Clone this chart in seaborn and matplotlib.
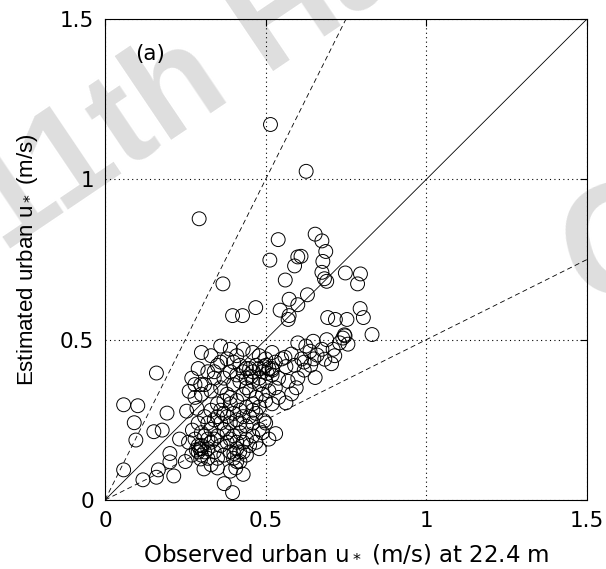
import numpy as np
import pandas as pd
import matplotlib
matplotlib.use("Agg")
import matplotlib.pyplot as plt
import seaborn as sns
from matplotlib.ticker import FuncFormatter

# observed vs estimated urban u* (m/s), grouped by region
upper_obs = [0.515, 0.626, 0.293, 0.367, 0.654, 0.539, 0.675, 0.687, 0.513, 0.600,
             0.590, 0.678, 0.675, 0.690, 0.748, 0.795, 0.786, 0.561, 0.630, 0.573,
             0.600, 0.545, 0.573, 0.570, 0.397, 0.428, 0.469, 0.794, 0.804, 0.693,
             0.717, 0.753, 0.610, 0.683]
upper_est = [1.171, 1.025, 0.877, 0.674, 0.829, 0.812, 0.808, 0.775, 0.748, 0.758,
             0.730, 0.744, 0.710, 0.682, 0.708, 0.705, 0.674, 0.686, 0.640, 0.626,
             0.609, 0.592, 0.575, 0.563, 0.575, 0.575, 0.600, 0.597, 0.569, 0.569,
             0.563, 0.563, 0.760, 0.690]

right_obs = [0.831, 0.747, 0.756, 0.740, 0.730, 0.710, 0.648, 0.600, 0.638, 0.660,
             0.684, 0.654, 0.563, 0.563, 0.581, 0.620, 0.640, 0.690, 0.715, 0.675,
             0.620, 0.580, 0.600, 0.612, 0.560, 0.595, 0.650, 0.705, 0.745, 0.625,
             0.590, 0.570]
right_est = [0.516, 0.512, 0.486, 0.505, 0.490, 0.470, 0.495, 0.490, 0.464, 0.452,
             0.439, 0.382, 0.416, 0.303, 0.331, 0.430, 0.420, 0.500, 0.450, 0.470,
             0.405, 0.455, 0.380, 0.440, 0.445, 0.350, 0.440, 0.425, 0.515, 0.480,
             0.420, 0.370]

mid_obs = [0.360, 0.390, 0.300, 0.330, 0.350, 0.380, 0.410, 0.430, 0.460, 0.480,
           0.500, 0.520, 0.530, 0.550, 0.510, 0.490, 0.470, 0.450, 0.430, 0.410,
           0.390, 0.370, 0.340, 0.320, 0.310, 0.330, 0.360, 0.380, 0.400, 0.420,
           0.440, 0.460, 0.480, 0.500, 0.520, 0.540, 0.530, 0.510, 0.490, 0.470,
           0.450, 0.430, 0.410, 0.390, 0.370, 0.350, 0.290, 0.270, 0.280, 0.300,
           0.460, 0.480, 0.500, 0.520, 0.540, 0.440, 0.420, 0.400, 0.480, 0.500,
           0.440, 0.460, 0.360, 0.340, 0.520, 0.480, 0.495, 0.521, 0.505, 0.455]
mid_est = [0.480, 0.470, 0.460, 0.450, 0.420, 0.440, 0.450, 0.470, 0.460, 0.450,
           0.440, 0.460, 0.430, 0.440, 0.410, 0.400, 0.420, 0.410, 0.400, 0.390,
           0.400, 0.380, 0.380, 0.400, 0.360, 0.340, 0.350, 0.330, 0.360, 0.370,
           0.380, 0.370, 0.380, 0.370, 0.390, 0.380, 0.350, 0.340, 0.330, 0.320,
           0.340, 0.330, 0.310, 0.300, 0.310, 0.300, 0.410, 0.380, 0.320, 0.330,
           0.300, 0.290, 0.310, 0.300, 0.320, 0.410, 0.420, 0.430, 0.410, 0.420,
           0.350, 0.400, 0.430, 0.400, 0.410, 0.360, 0.416, 0.405, 0.395, 0.385]

low_obs = [0.284, 0.298, 0.308, 0.371, 0.397, 0.407, 0.401, 0.419, 0.272, 0.232,
           0.290, 0.295, 0.300, 0.310, 0.300, 0.320, 0.330, 0.310, 0.330, 0.350,
           0.340, 0.360, 0.370, 0.380, 0.390, 0.400, 0.410, 0.420, 0.430, 0.440,
           0.450, 0.460, 0.470, 0.480, 0.460, 0.440, 0.420, 0.400, 0.380, 0.360,
           0.340, 0.350, 0.370, 0.390, 0.410, 0.400, 0.420, 0.430, 0.450, 0.470,
           0.490, 0.500, 0.430, 0.380, 0.360, 0.330, 0.310, 0.290, 0.300, 0.280,
           0.260, 0.270, 0.250, 0.410, 0.430, 0.390, 0.350, 0.330, 0.320, 0.390,
           0.370, 0.350, 0.320, 0.420, 0.440, 0.460, 0.531, 0.510, 0.480, 0.440,
           0.410, 0.390, 0.340, 0.320, 0.300, 0.290, 0.495]
low_est = [0.156, 0.128, 0.097, 0.051, 0.023, 0.100, 0.145, 0.150, 0.218, 0.190,
           0.150, 0.160, 0.170, 0.150, 0.140, 0.160, 0.180, 0.200, 0.220, 0.200,
           0.250, 0.240, 0.220, 0.260, 0.240, 0.270, 0.250, 0.280, 0.260, 0.230,
           0.260, 0.240, 0.270, 0.220, 0.200, 0.190, 0.210, 0.200, 0.180, 0.170,
           0.150, 0.130, 0.140, 0.150, 0.160, 0.130, 0.120, 0.150, 0.170, 0.180,
           0.210, 0.240, 0.180, 0.210, 0.280, 0.280, 0.260, 0.240, 0.210, 0.190,
           0.180, 0.140, 0.120, 0.120, 0.080, 0.090, 0.100, 0.110, 0.130, 0.320,
           0.270, 0.260, 0.240, 0.240, 0.290, 0.280, 0.207, 0.190, 0.160, 0.140,
           0.180, 0.190, 0.190, 0.190, 0.160, 0.170, 0.247]

left_obs = [0.058, 0.102, 0.091, 0.096, 0.058, 0.118, 0.160, 0.166, 0.152, 0.178,
            0.193, 0.214, 0.202, 0.202, 0.254, 0.262, 0.280, 0.298, 0.286, 0.160]
left_est = [0.297, 0.294, 0.241, 0.187, 0.094, 0.063, 0.071, 0.094, 0.213, 0.218,
            0.271, 0.075, 0.119, 0.145, 0.277, 0.339, 0.360, 0.360, 0.286, 0.396]

ratio_lines = [1.0, 2.0, 0.5]      # 1:1 solid, factor-of-2 dashed
ticks = [0, 0.5, 1, 1.5]


df = pd.DataFrame({
    "obs": upper_obs + right_obs + mid_obs + low_obs + left_obs,
    "est": upper_est + right_est + mid_est + low_est + left_est,
})

sns.set_style("white")
# the source image is a bit stretched sideways: wide DejaVu for horizontal
# text, narrower Liberation for the rotated y label
plt.rcParams["font.family"] = ["DejaVu Sans"]
plt.rcParams["mathtext.fontset"] = "dejavusans"
plt.rcParams["text.color"] = "black"
plt.rcParams["axes.labelcolor"] = "black"

fig = plt.figure(figsize=(6.06, 5.69), dpi=100, facecolor="white")
ax = fig.add_axes([105 / 606, 69 / 569, 482 / 606, 481 / 569])
ax.patch.set_alpha(0)

# faint conference watermark behind the plot
fig.text(0.005, 0.555, "11th Harmo", fontsize=100, fontweight="bold", color="#dedede",
         family="Liberation Sans", rotation=34, rotation_mode="anchor",
         ha="left", va="baseline", zorder=-5)
fig.text(0.95, 0.465, "C", fontsize=115, fontweight="bold", color="#dedede",
         family="Liberation Sans", rotation=15, rotation_mode="anchor",
         ha="left", va="baseline", zorder=-5)

sns.scatterplot(data=df, x="obs", y="est", ax=ax, marker="o", s=100,
                facecolor="none", edgecolor="black", linewidth=0.7, zorder=3)

for r in ratio_lines:
    ls = "-" if r == 1.0 else (0, (6, 4))
    ax.axline((0, 0), slope=r, color="black", lw=0.6, linestyle=ls, zorder=2)

ax.set_xlim(0, 1.5)
ax.set_ylim(0, 1.5)
ax.set_xticks(ticks)
ax.set_yticks(ticks)
fmt = FuncFormatter(lambda v, p: "%g" % v)
ax.xaxis.set_major_formatter(fmt)
ax.yaxis.set_major_formatter(fmt)
ax.grid(True, color="black", linestyle=(0, (1, 3)), linewidth=0.8)
ax.tick_params(direction="in", length=5, width=0.8, top=True, right=True,
               labelsize=15.5, pad=8, colors="black")
for sp in ax.spines.values():
    sp.set_color("black")
    sp.set_linewidth(0.8)

ax.set_xlabel("Observed urban u$_*$ (m/s) at 22.4 m", fontsize=16.5, labelpad=9)
ax.set_ylabel("Estimated urban u$_*$ (m/s)", fontsize=16, labelpad=14,
              family="Liberation Sans")
ax.text(0.093, 1.39, "(a)", fontsize=15.5, ha="left", va="center")

fig.savefig("out.png", dpi=100)
